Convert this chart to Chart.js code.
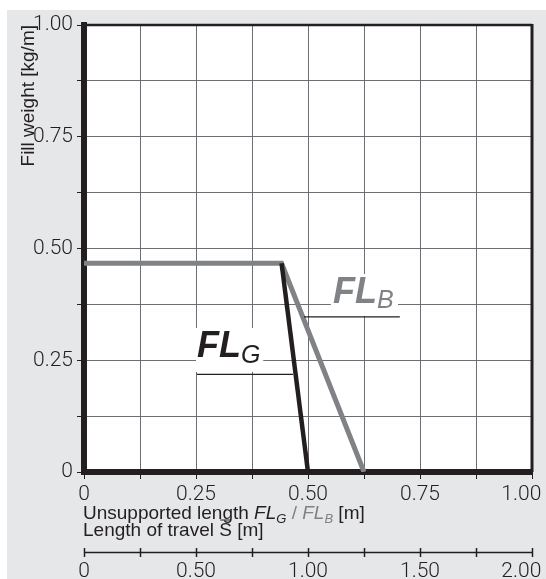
<!DOCTYPE html>
<html>
<head>
<meta charset="utf-8">
<script src="https://cdn.jsdelivr.net/npm/chart.js@4.4.1/dist/chart.umd.min.js"></script>
<style>
  html, body { margin: 0; padding: 0; background: #fff; }
</style>
</head>
<body>
<canvas id="fillChart" width="546" height="579"></canvas>
<script>
// FL_B (grey) and FL_G (black): unsupported length [m] -> max fill weight [kg/m]
const flbLength = [0, 0.441, 0.625];
const flbWeight = [0.467, 0.467, 0];
const flgLength = [0.441, 0.5];
const flgWeight = [0.467, 0];

const lengthTicks = ['0', '0.25', '0.50', '0.75', '1.00'];
const travelTicks = ['0', '0.50', '1.00', '1.50', '2.00'];
const weightTicks = ['0', '0.25', '0.50', '0.75', '1.00'];

const INK = '#231f20';
const GREY = '#808285';
const GRID = '#6d6e71';
const TICK_FONT = { family: 'Roboto', size: 21, weight: '300' };

function toPoints(xs, ys) {
  return xs.map((x, i) => ({ x: x, y: ys[i] }));
}

// only every 2nd tick gets text, the minor ones stay blank
function tickLabel(labels, step, padLast) {
  return function (value) {
    const i = Math.round(value / step);
    if (Math.abs(value / step - i) > 1e-6) return '';
    let txt = labels[i];
    if (padLast && i === labels.length - 1) txt += '\u2003'; // keep last label inside the picture
    return txt;
  };
}

function fixSize(prop, px) {
  return function (scale) {
    scale[prop] = px;
    scale.paddingLeft = scale.paddingRight = 0;
    scale.paddingTop = scale.paddingBottom = 0;
  };
}

function drawRuns(ctx, x, y, runs) {
  runs.forEach(r => {
    ctx.font = r.font;
    ctx.fillStyle = r.color || INK;
    ctx.fillText(r.text, x, y + (r.dy || 0));
    x += ctx.measureText(r.text).width;
  });
  return x;
}

const background = {
  id: 'background',
  beforeDraw(chart) {
    const ctx = chart.ctx, a = chart.chartArea;
    ctx.save();
    ctx.fillStyle = '#ffffff';
    ctx.fillRect(0, 0, chart.width, chart.height);
    ctx.fillStyle = '#e6e7e8';
    ctx.fillRect(7, 10, chart.width - 7, chart.height - 10);
    ctx.fillStyle = '#ffffff';
    ctx.fillRect(a.left, a.top, a.right - a.left, a.bottom - a.top);
    ctx.restore();
  }
};

const labels = {
  id: 'labels',
  afterDatasetsDraw(chart) {
    const ctx = chart.ctx, x = chart.scales.x, y = chart.scales.y;
    const px = v => x.getPixelForValue(v), py = v => y.getPixelForValue(v);
    ctx.save();
    // white boxes behind the curve names
    ctx.fillStyle = '#ffffff';
    ctx.fillRect(px(0.551), py(0.443), px(0.701) - px(0.551), py(0.349) - py(0.443));
    ctx.fillRect(px(0.250), py(0.322), px(0.400) - px(0.250), py(0.224) - py(0.322));

    ctx.textBaseline = 'alphabetic';
    drawRuns(ctx, px(0.556), py(0.378), [
      { text: 'FL', font: 'italic bold 36px "Liberation Sans"', color: GREY },
      { text: 'B', font: 'italic 25px "Liberation Sans"', color: GREY, dy: 5 }
    ]);
    drawRuns(ctx, px(0.252), py(0.257), [
      { text: 'FL', font: 'italic bold 36px "Liberation Sans"', color: INK },
      { text: 'G', font: 'italic 25px "Liberation Sans"', color: INK, dy: 6 }
    ]);

    ctx.strokeStyle = INK;
    ctx.lineWidth = 1.2;
    ctx.beginPath();
    ctx.moveTo(px(0.491), py(0.347));
    ctx.lineTo(px(0.705), py(0.347));
    ctx.moveTo(px(0.252), py(0.2186));
    ctx.lineTo(px(0.4665), py(0.2186));
    ctx.stroke();
    ctx.restore();
  },
  afterDraw(chart) {
    const ctx = chart.ctx, a = chart.chartArea, x = chart.scales.x, x2 = chart.scales.x2;
    ctx.save();
    // top and right edge of the frame
    ctx.strokeStyle = INK;
    ctx.lineWidth = 2.5;
    ctx.beginPath();
    ctx.moveTo(a.left, a.top);
    ctx.lineTo(a.right, a.top);
    ctx.stroke();
    ctx.lineWidth = 3;
    ctx.beginPath();
    ctx.moveTo(a.right, a.top - 1);
    ctx.lineTo(a.right, a.bottom);
    ctx.stroke();

    // travel scale baseline, ticks cross it
    ctx.lineWidth = 1.5;
    ctx.beginPath();
    ctx.moveTo(x2.left, x2.top + 4.5);
    ctx.lineTo(x2.right, x2.top + 4.5);
    ctx.stroke();

    // two-line axis title under the length scale
    const fam = '"Liberation Sans"';
    const reg = '19px ' + fam, ita = 'italic 19px ' + fam, sub = 'italic 13px ' + fam;
    const x0 = x.left - 1;
    ctx.textBaseline = 'alphabetic';
    drawRuns(ctx, x0, x.top + 47, [
      { text: 'Unsupported length ', font: reg },
      { text: 'FL', font: ita },
      { text: 'G', font: sub, dy: 4 },
      { text: ' / ', font: reg, color: GREY },
      { text: 'FL', font: ita, color: GREY },
      { text: 'B', font: sub, color: GREY, dy: 4 },
      { text: ' [m]', font: reg }
    ]);
    const sx = drawRuns(ctx, x0, x.top + 64, [{ text: 'Length of travel ', font: reg }]);
    ctx.font = reg;
    const sw = ctx.measureText('S').width;
    drawRuns(ctx, sx, x.top + 64, [{ text: 'S', font: reg }, { text: ' [m]', font: reg }]);
    ctx.lineWidth = 1;
    ctx.beginPath();
    ctx.moveTo(sx + 1, x.top + 48);
    ctx.lineTo(sx + sw - 1, x.top + 48);
    ctx.stroke();
    ctx.restore();
  }
};

new Chart(document.getElementById('fillChart'), {
  type: 'scatter',
  data: {
    datasets: [
      {
        label: 'FL_G',
        data: toPoints(flgLength, flgWeight),
        showLine: true,
        borderColor: INK,
        borderWidth: 4.5,
        pointRadius: 0,
        borderJoinStyle: 'miter'
      },
      {
        label: 'FL_B',
        data: toPoints(flbLength, flbWeight),
        showLine: true,
        borderColor: GREY,
        borderWidth: 5,
        pointRadius: 0,
        borderJoinStyle: 'miter'
      }
    ]
  },
  options: {
    responsive: false,
    animation: false,
    devicePixelRatio: 1,
    layout: { padding: { top: 25, right: 14, left: 0, bottom: 0 } },
    plugins: { legend: { display: false }, tooltip: { enabled: false } },
    scales: {
      x: {
        type: 'linear', position: 'bottom', min: 0, max: 1, weight: 0,
        afterFit: fixSize('height', 76),
        grid: { color: GRID, lineWidth: 1, tickLength: 7, tickColor: INK, tickWidth: 1 },
        border: { color: INK, width: 6 },
        ticks: {
          stepSize: 0.125, autoSkip: false, maxRotation: 0, padding: 3,
          font: TICK_FONT, color: INK,
          callback: tickLabel(lengthTicks, 0.25, true)
        }
      },
      x2: {
        type: 'linear', position: 'bottom', min: 0, max: 2, weight: 1,
        afterFit: fixSize('height', 31),
        grid: { drawOnChartArea: false, tickLength: 9, tickColor: INK, tickWidth: 1.5 },
        border: { display: false },
        ticks: {
          stepSize: 0.25, autoSkip: false, maxRotation: 0, padding: 2,
          font: TICK_FONT, color: INK,
          callback: tickLabel(travelTicks, 0.5, true)
        }
      },
      y: {
        type: 'linear', position: 'left', min: 0, max: 1,
        afterFit: fixSize('width', 84),
        grid: { color: GRID, lineWidth: 1, tickLength: 7, tickColor: INK, tickWidth: 1 },
        border: { color: INK, width: 6 },
        title: {
          display: true, text: 'Fill weight [kg/m]', align: 'end', color: INK,
          font: { family: 'Liberation Sans', size: 19 },
          padding: { top: 17, bottom: 0 }
        },
        ticks: {
          stepSize: 0.125, autoSkip: false, padding: 4,
          font: TICK_FONT, color: INK,
          callback: tickLabel(weightTicks, 0.25, false)
        }
      }
    }
  },
  plugins: [background, labels]
});
</script>
</body>
</html>
